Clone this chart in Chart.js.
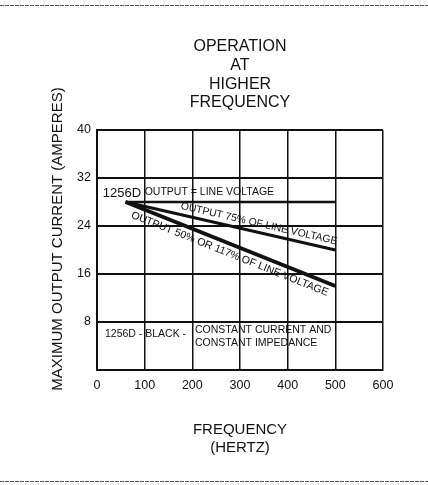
<!DOCTYPE html>
<html><head><meta charset="utf-8">
<script src="https://cdn.jsdelivr.net/npm/chart.js@4"></script>
<style>html,body{margin:0;padding:0;background:#fff;}#wrap{width:428px;height:485px;position:relative;}</style>
</head><body><div id="wrap"><canvas id="c" width="428" height="485"></canvas></div>
<script>
// ---- data ----
const frequencies = [60, 500];                 // Hz
const outputLineVoltage = [28, 28];            // A, 1256D output = line voltage
const output75 = [28, 20];                     // A, output 75% of line voltage
const output50or117 = [28, 14];                // A, output 50% or 117% of line voltage
const xTickValues = [0, 100, 200, 300, 400, 500, 600];
const yTickValues = [0, 8, 16, 24, 32, 40];
const titleLines = ['OPERATION', 'AT', 'HIGHER', 'FREQUENCY'];
const xTitleLines = ['FREQUENCY', '(HERTZ)'];
const yTitleText = 'MAXIMUM OUTPUT CURRENT (AMPERES)';
const seriesNames = ['OUTPUT = LINE VOLTAGE', 'OUTPUT 75% OF LINE VOLTAGE', 'OUTPUT 50% OR 117% OF LINE VOLTAGE'];
const noteLeft = '1256D - BLACK -';
const noteRight = ['CONSTANT CURRENT AND', 'CONSTANT IMPEDANCE'];

const FONT = "'Liberation Sans', Arial, Helvetica, sans-serif";
const INK = '#111';

const toPts = ys => frequencies.map((f, i) => ({x: f, y: ys[i]}));

const textPlugin = {
  id: 'texts',
  afterDraw(chart) {
    const ctx = chart.ctx;
    const xs = chart.scales.x, ys = chart.scales.y;
    const ca = chart.chartArea;
    const cx = (ca.left + ca.right) / 2;
    ctx.save();
    // scan edge lines
    ctx.strokeStyle = '#555';
    ctx.lineWidth = 1;
    ctx.setLineDash([4, 1]);
    ctx.beginPath(); ctx.moveTo(0, 5.5); ctx.lineTo(428, 5.5); ctx.stroke();
    ctx.beginPath(); ctx.moveTo(0, 481.5); ctx.lineTo(428, 481.5); ctx.stroke();
    ctx.setLineDash([]);
    ctx.fillStyle = INK;
    ctx.textBaseline = 'middle';
    ctx.textAlign = 'center';
    // main title
    ctx.font = '16px ' + FONT;
    const ty = [47, 66, 85, 103];
    titleLines.forEach((t, i) => ctx.fillText(t, cx, ty[i]));
    // y axis title
    ctx.save();
    ctx.translate(58, 239);
    ctx.rotate(-Math.PI / 2);
    ctx.font = '15px ' + FONT;
    ctx.fillText(yTitleText, 0, 0);
    ctx.restore();
    // labels on curves
    ctx.textAlign = 'left';
    ctx.font = '13px ' + FONT;
    ctx.fillText('1256D', xs.getPixelForValue(12), ys.getPixelForValue(29.5));
    ctx.font = '10.5px ' + FONT;
    ctx.fillText(seriesNames[0], xs.getPixelForValue(100), ys.getPixelForValue(29.7));
    const rotLabel = (txt, series, xv, off) => {
      const x0 = xs.getPixelForValue(frequencies[0]), y0 = ys.getPixelForValue(series[0]);
      const x1 = xs.getPixelForValue(frequencies[1]), y1 = ys.getPixelForValue(series[1]);
      const a = Math.atan2(y1 - y0, x1 - x0);
      const px = xs.getPixelForValue(xv);
      const py = y0 + (y1 - y0) * (px - x0) / (x1 - x0);
      ctx.save();
      ctx.translate(px - off * Math.sin(a), py + off * Math.cos(a));
      ctx.rotate(a);
      ctx.textAlign = 'center';
      ctx.fillText(txt, 0, 0);
      ctx.restore();
    };
    ctx.font = '10.4px ' + FONT;
    rotLabel(seriesNames[1], output75, 336, -8.5);
    ctx.font = '10.6px ' + FONT;
    rotLabel(seriesNames[2], output50or117, 286, 9.5);
    // note under 8 A line
    ctx.textAlign = 'left';
    ctx.font = '10.5px ' + FONT;
    ctx.fillText(noteLeft, 105, 334);
    ctx.fillText(noteRight[0], 195, 330);
    ctx.fillText(noteRight[1], 195, 343);
    ctx.restore();
  }
};

new Chart(document.getElementById('c'), {
  type: 'scatter',
  data: {
    datasets: [
      {label: seriesNames[0], data: toPts(outputLineVoltage), borderWidth: 2.5},
      {label: seriesNames[1], data: toPts(output75), borderWidth: 3},
      {label: seriesNames[2], data: toPts(output50or117), borderWidth: 4}
    ].map(d => Object.assign(d, {showLine: true, borderColor: INK, backgroundColor: INK, pointRadius: 0, borderCapStyle: 'butt', tension: 0}))
  },
  options: {
    responsive: false,
    devicePixelRatio: 1,
    animation: false,
    layout: {padding: {left: 0, top: 130, right: 45, bottom: 28}},
    plugins: {legend: {display: false}, tooltip: {enabled: false}, title: {display: false}},
    scales: {
      x: {
        type: 'linear', min: 0, max: 600,
        afterBuildTicks: s => { s.ticks = xTickValues.map(v => ({value: v})); },
        afterFit: s => { s.height = 87; },
        grid: {color: INK, lineWidth: 1.5, drawTicks: false},
        border: {color: INK, width: 2},
        ticks: {color: INK, padding: 8, font: {family: FONT, size: 12.5}, maxRotation: 0},
        title: {display: true, text: xTitleLines, color: INK, font: {family: FONT, size: 15, lineHeight: 1.2}, padding: {top: 0, bottom: 0}}
      },
      y: {
        type: 'linear', min: 0, max: 40,
        afterBuildTicks: s => { s.ticks = yTickValues.map(v => ({value: v})); },
        afterFit: s => { s.width = 97; },
        grid: {color: INK, lineWidth: 2, drawTicks: false},
        border: {color: INK, width: 2},
        ticks: {color: INK, padding: 6, font: {family: FONT, size: 12.5}, callback: v => (v === 0 ? '' : String(v))}
      }
    }
  },
  plugins: [textPlugin]
});
</script></body></html>
